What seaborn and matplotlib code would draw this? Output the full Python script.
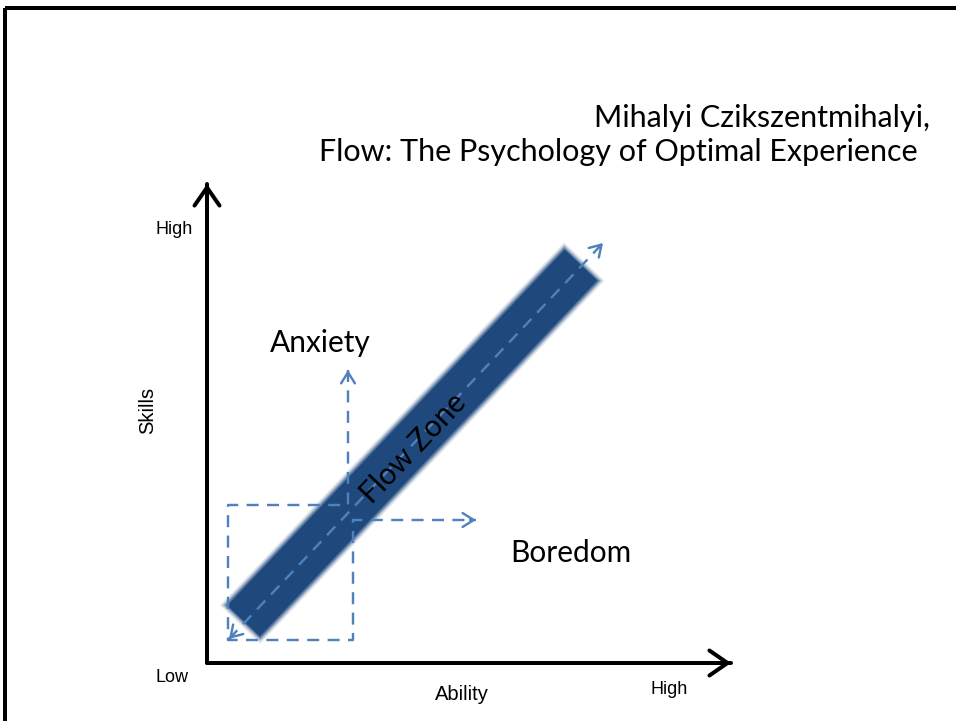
import matplotlib
matplotlib.use("Agg")
import matplotlib.pyplot as plt
import seaborn as sns
import numpy as np
import pandas as pd

# ---- data (diagram coordinates, in reference pixel space) ----
band_x = [243.5, 581.0]
band_y = [621.0, 265.0]
diag_x = [229.0, 603.0]
diag_y = [639.0, 243.0]
box_x = [348, 348, 228, 228, 353, 353, 476]
box_y = [370, 505, 505, 640, 640, 520, 520]
yaxis_x = [207, 207]
yaxis_y = [663, 184]
xaxis_x = [207, 731]
xaxis_y = [663, 663]

title_lines = ["Mihalyi Czikszentmihalyi,", "Flow: The Psychology of Optimal Experience"]
zone_labels = ["Anxiety", "Boredom", "Flow Zone"]
axis_labels = ["Skills", "Ability"]
tick_labels = ["Low", "High", "High"]

W, H = 956, 721
sns.set_style("white")
plt.rcParams["font.family"] = ["Lato", "DejaVu Sans"]
plt.rcParams["text.color"] = "black"

fig = plt.figure(figsize=(W / 100, H / 100), dpi=100)
ax = fig.add_axes([0, 0, 1, 1])
ax.set_xlim(0, W)
ax.set_ylim(H, 0)
ax.axis("off")

px = 72 / 100  # points per pixel

band_col = "#1F497D"
dash_col = "#4F81BD"

# frame (top and left)
ax.plot([5.5, W + 5], [8, 8], color="black", lw=4 * px, solid_capstyle="butt")
ax.plot([5.5, 5.5], [8, H + 5], color="black", lw=4 * px, solid_capstyle="butt")

# flow band with soft edges
bx = np.array(band_x); by = np.array(band_y)
d = np.array([bx[1] - bx[0], by[1] - by[0]])
u = d / np.linalg.norm(d)
for k, a in [(5, 0.08), (4, 0.12), (3, 0.18), (2, 0.28), (1, 0.45)]:
    ex = [bx[0] - u[0] * k, bx[1] + u[0] * k]
    ey = [by[0] - u[1] * k, by[1] + u[1] * k]
    sns.lineplot(x=ex, y=ey, ax=ax, color=band_col, lw=(46 + 2 * k) * px,
                 alpha=a, solid_capstyle="butt", sort=False, estimator=None)
sns.lineplot(x=band_x, y=band_y, ax=ax, color=band_col, lw=45 * px,
             solid_capstyle="butt", sort=False, estimator=None)

# dashed lines
dlw = 2.4 * px
dash_kw = dict(color=dash_col, lw=dlw, sort=False, estimator=None)
sns.lineplot(x=diag_x, y=diag_y, ax=ax, **dash_kw)
ax.lines[-1].set_dashes((5, 3.5))
sns.lineplot(x=box_x, y=box_y, ax=ax, **dash_kw)
ax.lines[-1].set_dashes((5, 3.5))

def head(tip, frm, color, lw, hl, hw):
    ax.annotate("", xy=tip, xytext=frm,
                arrowprops=dict(arrowstyle=f"->,head_length={hl},head_width={hw}",
                                color=color, lw=lw, shrinkA=0, shrinkB=0,
                                mutation_scale=10))

def unit_back(x0, y0, x1, y1, L=6):
    v = np.array([x0 - x1, y0 - y1], float)
    v /= np.linalg.norm(v)
    return (x1 + v[0] * L, y1 + v[1] * L)

head((diag_x[1], diag_y[1]), unit_back(diag_x[0], diag_y[0], diag_x[1], diag_y[1]), dash_col, dlw, 0.8, 0.5)
head((diag_x[0], diag_y[0]), unit_back(diag_x[1], diag_y[1], diag_x[0], diag_y[0]), dash_col, dlw, 0.8, 0.5)
head((box_x[0], box_y[0]), unit_back(box_x[1], box_y[1], box_x[0], box_y[0]), dash_col, dlw, 0.8, 0.5)
head((box_x[-1], box_y[-1]), unit_back(box_x[-2], box_y[-2], box_x[-1], box_y[-1]), dash_col, dlw, 0.8, 0.5)

# axes
sns.lineplot(x=yaxis_x, y=yaxis_y, ax=ax, color="black", lw=4 * px, sort=False, estimator=None)
sns.lineplot(x=xaxis_x, y=xaxis_y, ax=ax, color="black", lw=4 * px, sort=False, estimator=None)
head((yaxis_x[1], yaxis_y[1]), (yaxis_x[1], yaxis_y[1] + 10), "black", 4 * px, 1.3, 0.9)
head((xaxis_x[1], xaxis_y[1]), (xaxis_x[1] - 10, xaxis_y[1]), "black", 4 * px, 1.3, 0.9)

# text
ax.text(930, 118, title_lines[0], ha="right", va="center", fontsize=22)
ax.text(918, 152, title_lines[1], ha="right", va="center", fontsize=22)
ax.text(320, 343, zone_labels[0], ha="center", va="center", fontsize=21.5)
ax.text(571, 553, zone_labels[1], ha="center", va="center", fontsize=21.5)
ax.text(413, 448, zone_labels[2], ha="center", va="center", fontsize=21.5,
        rotation=46.5, rotation_mode="anchor")

arial = ["Liberation Sans", "DejaVu Sans"]
ax.text(148, 410, axis_labels[0], ha="center", va="center", fontsize=14.5, rotation=90, family=arial)
ax.text(462, 695, axis_labels[1], ha="center", va="center", fontsize=14.5, family=arial)
ax.text(172, 678, tick_labels[0], ha="center", va="center", fontsize=13, family=arial)
ax.text(174, 230, tick_labels[1], ha="center", va="center", fontsize=13, family=arial)
ax.text(669, 690, tick_labels[2], ha="center", va="center", fontsize=13, family=arial)

fig.savefig("out.png", dpi=100, facecolor="white")
